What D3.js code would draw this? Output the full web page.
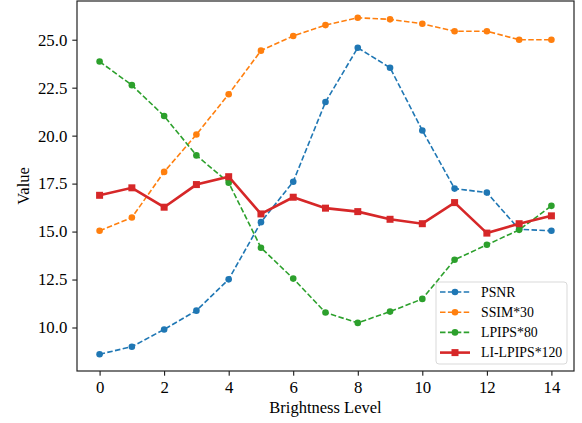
<!DOCTYPE html>
<html>
<head>
<meta charset="utf-8">
<script src="https://cdn.jsdelivr.net/npm/d3@7"></script>
<style>
    body { margin: 0; background: #fff; }
    svg text { font-family: "Liberation Serif", Tinos, "Times New Roman", Times, "DejaVu Serif", serif !important; fill: #000; }
    .axis path, .axis line { stroke: #000; }
</style>
</head>
<body>
<div id="main_div" style="width:582px;height:423px;"></div>
<script>
/** data **/
const levels = d3.range(0, 15);
const psnr = [8.61, 9.0, 9.9, 10.88, 12.51, 15.49, 17.6, 21.75, 24.58, 23.54, 20.27, 17.24, 17.03, 15.12, 15.04];
const ssim30 = [15.04, 15.73, 18.11, 20.06, 22.16, 24.43, 25.19, 25.76, 26.14, 26.06, 25.83, 25.44, 25.44, 25.0, 25.0];
const lpips80 = [23.86, 22.63, 21.02, 18.97, 17.55, 14.16, 12.55, 10.78, 10.24, 10.83, 11.49, 13.53, 14.31, 15.09, 16.34];
const lilpips120 = [16.89, 17.28, 16.27, 17.45, 17.86, 15.92, 16.79, 16.22, 16.04, 15.64, 15.41, 16.51, 14.92, 15.41, 15.82];
const seriesNames = ["PSNR", "SSIM*30", "LPIPS*80", "LI-LPIPS*120"];
const xTicks = [0, 2, 4, 6, 8, 10, 12, 14];
const yTicks = [10, 12.5, 15, 17.5, 20, 22.5, 25];

const colors = ["#1f77b4", "#ff7f0e", "#2ca02c", "#d62728"];
const margin = { left: 77, right: 8, top: 1, bottom: 52 };
const size = [582, 423];
const serif = '"Liberation Serif", Tinos, "Times New Roman", Times, "DejaVu Serif", serif';

let xScale, yScale;
const allSeries = [psnr, ssim30, lpips80, lilpips120];

render();

function render() {
    let svg = d3.select("#main_div")
        .append("svg")
        .attr("width", size[0])
        .attr("height", size[1])
        .attr("font-family", serif)
        .attr("id", "main_svg");

    // matplotlib style 5% margins
    let xExt = d3.extent(levels);
    let xPad = (xExt[1] - xExt[0]) * 0.05;
    xScale = d3.scaleLinear()
        .domain([xExt[0] - xPad, xExt[1] + xPad])
        .range([margin.left, size[0] - margin.right]);

    let yExt = d3.extent(allSeries.flat());
    let yPad = (yExt[1] - yExt[0]) * 0.05;
    yScale = d3.scaleLinear()
        .domain([yExt[0] - yPad, yExt[1] + yPad])
        .range([size[1] - margin.bottom, margin.top]);

    drawAxes(svg);
    drawLines(svg);
    drawLegend(svg);
}

function drawAxes(svg) {
    let bottom = size[1] - margin.bottom;

    let xAxis = d3.axisBottom(xScale).tickValues(xTicks).tickSize(4.7).tickPadding(5).tickFormat(d3.format("d"));
    let yAxis = d3.axisLeft(yScale).tickValues(yTicks).tickSize(4.7).tickPadding(5).tickFormat(d3.format(".1f"));

    let xg = svg.append("g").attr("class", "axis")
        .attr("transform", "translate(0," + bottom + ")")
        .call(xAxis);
    let yg = svg.append("g").attr("class", "axis")
        .attr("transform", "translate(" + margin.left + ",0)")
        .call(yAxis);
    xg.select(".domain").remove();
    yg.select(".domain").remove();
    xg.attr("font-family", serif).attr("font-size", 16.8);
    yg.attr("font-family", serif).attr("font-size", 16.8);
    svg.selectAll(".axis line").style("stroke-width", 1);

    // frame
    svg.append("rect")
        .attr("x", margin.left)
        .attr("y", margin.top)
        .attr("width", size[0] - margin.right - margin.left)
        .attr("height", bottom - margin.top)
        .style("fill", "none")
        .style("stroke", "#222")
        .style("stroke-width", 1.2);

    svg.append("text")
        .text("Brightness Level")
        .attr("x", (margin.left + size[0] - margin.right) / 2)
        .attr("y", 413)
        .attr("text-anchor", "middle")
        .attr("font-size", 16.5);

    svg.append("text")
        .text("Value")
        .attr("transform", "translate(29," + ((margin.top + bottom) / 2) + ") rotate(-90)")
        .attr("text-anchor", "middle")
        .attr("font-size", 16.5);
}

function drawLines(svg) {
    let line = d3.line()
        .x(function (d, i) { return xScale(levels[i]); })
        .y(function (d) { return yScale(d); });

    allSeries.forEach(function (s, k) {
        let g = svg.append("g").attr("class", "series");
        let solid = k == 3;
        g.append("path")
            .datum(s)
            .attr("d", line)
            .style("fill", "none")
            .style("stroke", colors[k])
            .style("stroke-width", solid ? 2.6 : 1.6)
            .style("stroke-dasharray", solid ? null : "5.5,2.4");

        if (solid) {
            g.selectAll("rect").data(s).enter()
                .append("rect")
                .attr("x", function (d, i) { return xScale(levels[i]) - 3.5; })
                .attr("y", function (d) { return yScale(d) - 3.5; })
                .attr("width", 7)
                .attr("height", 7)
                .style("fill", colors[k]);
        } else {
            g.selectAll("circle").data(s).enter()
                .append("circle")
                .attr("cx", function (d, i) { return xScale(levels[i]); })
                .attr("cy", function (d) { return yScale(d); })
                .attr("r", 3.3)
                .style("fill", colors[k]);
        }
    });
}

function drawLegend(svg) {
    let lg = svg.append("g").attr("transform", "translate(436,282)");
    lg.append("rect")
        .attr("width", 131)
        .attr("height", 82)
        .attr("rx", 3)
        .style("fill", "#fff")
        .style("fill-opacity", 0.8)
        .style("stroke", "#d9d9d9")
        .style("stroke-width", 1);

    seriesNames.forEach(function (name, k) {
        let y = 10 + k * 20.2;
        let solid = k == 3;
        lg.append("line")
            .attr("x1", 4).attr("x2", 34)
            .attr("y1", y).attr("y2", y)
            .style("stroke", colors[k])
            .style("stroke-width", solid ? 2.6 : 1.6)
            .style("stroke-dasharray", solid ? null : "5.5,2.4");
        if (solid) {
            lg.append("rect")
                .attr("x", 15.5).attr("y", y - 3.5)
                .attr("width", 7).attr("height", 7)
                .style("fill", colors[k]);
        } else {
            lg.append("circle")
                .attr("cx", 19).attr("cy", y).attr("r", 3.3)
                .style("fill", colors[k]);
        }
        lg.append("text")
            .text(name)
            .attr("x", 45)
            .attr("y", y + 4.8)
            .attr("font-size", 13.8);
    });
}
</script>
</body>
</html>
